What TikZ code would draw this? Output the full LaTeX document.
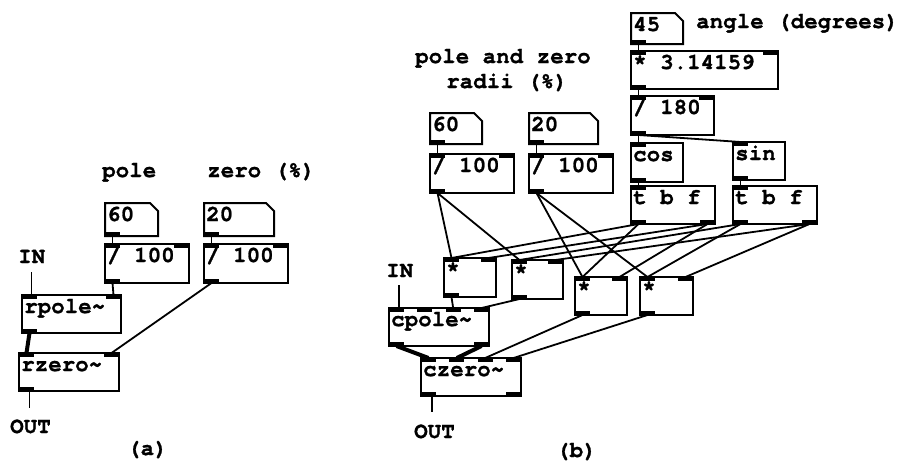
\documentclass[tikz,border=0pt]{standalone}
\usepackage{fontspec}
\setmainfont{TeX Gyre Cursor}[BoldFeatures={FakeBold=1.2}]
\tikzset{
  pdfont/.style={font=\fontsize{22.5}{25}\selectfont\bfseries},
  obj/.style={draw, line width=2pt, rectangle, inner sep=0pt, outer sep=0pt, anchor=north west},
  numbox/.style={rectangle, inner sep=0pt, outer sep=0pt, anchor=north west},
  objtext/.style={pdfont, anchor=base west, inner sep=0pt},
  lbl/.style={pdfont, anchor=base west, inner sep=0pt},
  ctl/.style={line width=1.8pt},
  sig/.style={line width=4pt},
}
\newcommand\pdinlets[5]{%
  \ifnum#5=1
    \fill (#2,#3) rectangle ++(15,4);
    \coordinate (#1-i1) at ({#2+7.5},#3);
  \else
    \foreach \k in {1,...,#5}{%
      \pgfmathsetmacro\px{#2+(#4-#2-15)*(\k-1)/(#5-1)}%
      \fill (\px,#3) rectangle ++(15,4);
      \coordinate (#1-i\k) at ({\px+7.5},#3);
    }%
  \fi
}
\newcommand\pdoutlets[5]{%
  \ifnum#5=1
    \fill (#2,#3) rectangle ++(15,-4);
    \coordinate (#1-o1) at ({#2+7.5},#3);
  \else
    \foreach \k in {1,...,#5}{%
      \pgfmathsetmacro\px{#2+(#4-#2-15)*(\k-1)/(#5-1)}%
      \fill (\px,#3) rectangle ++(15,-4);
      \coordinate (#1-o\k) at ({\px+7.5},#3);
    }%
  \fi
}
% name x1 y1 x2 y2 text nin nout
\newcommand\pdbox[8]{%
  \node[obj, minimum width={#4-#2}, minimum height={#5-#3}] (#1) at (#2,#3) {};
  \node[objtext] (#1-t) at ({#2+2},{#3+18}) {#6};
  \pdinlets{#1}{#2}{#3}{#4}{#7}
  \pdoutlets{#1}{#2}{#5}{#4}{#8}
}
\newcommand\pdnum[6]{%
  \node[numbox, minimum width={#4-#2}, minimum height={#5-#3}] (#1) at (#2,#3) {};
  \draw[line width=2pt, line join=miter] (#1.north west) -- ([xshift=-8pt]#1.north east)
     -- ([yshift=-8pt]#1.north east) -- (#1.south east) -- (#1.south west) -- cycle;
  \node[objtext] (#1-t) at ({#2+2},{#3+18}) {#6};
  \pdoutlets{#1}{#2}{#5}{#4}{1}
}
\begin{document}
\begin{tikzpicture}[x=1pt,y=-1pt]
\useasboundingbox (0,0) rectangle (899,466);
% ---------------- (a)
\node[lbl] (poleA) at (102,177) {pole};
\node[lbl] (zeroA) at (207,177) {zero (\%)};
\pdnum{nA60}{105}{203}{158}{236}{60}
\pdnum{nA20}{204}{203}{274}{236}{20}
\pdbox{dA1}{105}{244}{189}{283}{/ 100}{2}{1}
\pdbox{dA2}{204}{244}{288}{283}{/ 100}{2}{1}
\node[lbl] (inA) at (18,263) {IN};
\pdbox{rpole}{22}{295}{121}{333}{rpole\textasciitilde}{2}{1}
\pdbox{rzero}{19}{353}{119}{391}{rzero\textasciitilde}{2}{1}
\node[lbl] (outA) at (10,433) {OUT};
\node[lbl] (capA) at (127,455) {(a)};
\coordinate (inAend) at (31.5,272);
\coordinate (outAend) at (29.5,408);
\draw[ctl] (nA60-o1) -- (dA1-i1);
\draw[ctl] (nA20-o1) -- (dA2-i1);
\draw[ctl] (dA1-o1) -- (rpole-i2);
\draw[ctl] (dA2-o1) -- (rzero-i2);
\draw[ctl] (inAend) -- (inAend |- rpole-i1);
\draw[sig] (rpole-o1) -- (rzero-i1);
\draw[ctl] (outAend |- rzero-o1) -- (outAend);
% ---------------- (b)
\node[lbl] (pzB) at (415,63) {pole and zero};
\node[lbl] (radB) at (446,88) {radii (\%)};
\node[lbl] (angB) at (696,28) {angle (degrees)};
\pdnum{n45}{631}{13}{683}{44}{45}
\pdbox{mul}{631}{51}{778}{89}{* 3.14159}{2}{1}
\pdbox{div}{631}{96}{714}{135}{/ 180}{2}{1}
\pdbox{cos}{631}{143}{683}{182}{cos}{1}{1}
\pdbox{sin}{733}{142}{785}{180}{sin}{1}{1}
\pdbox{tbfA}{631}{186}{715}{224}{t b f}{1}{2}
\pdbox{tbfB}{733}{186}{817}{224}{t b f}{1}{2}
\pdnum{n60}{430}{113}{482}{144}{60}
\pdnum{n20}{529}{113}{598}{144}{20}
\pdbox{dB1}{430}{154}{514}{193}{/ 100}{2}{1}
\pdbox{dB2}{529}{154}{613}{193}{/ 100}{2}{1}
\pdbox{mA}{444}{258}{496}{297}{*}{2}{1}
\pdbox{mB}{512}{260}{563}{299}{*}{2}{1}
\pdbox{mC}{575}{277}{627}{315}{*}{2}{1}
\pdbox{mD}{640}{277}{693}{315}{*}{2}{1}
\node[lbl] (inB) at (386,277) {IN};
\pdbox{cpole}{389}{308}{489}{346}{cpole\textasciitilde}{4}{2}
\pdbox{czero}{421}{358}{521}{396}{czero\textasciitilde}{4}{2}
\node[lbl] (outB) at (414,438) {OUT};
\node[lbl] (capB) at (556,457) {(b)};
\coordinate (inBend) at (399,285);
\coordinate (outBend) at (432,412);
\draw[ctl] (n45-o1) -- (mul-i1);
\draw[ctl] (mul-o1) -- (div-i1);
\draw[ctl] (div-o1) -- (cos-i1);
\draw[ctl] (div-o1) -- (sin-i1);
\draw[ctl] (cos-o1) -- (tbfA-i1);
\draw[ctl] (sin-o1) -- (tbfB-i1);
\draw[ctl] (n60-o1) -- (dB1-i1);
\draw[ctl] (n20-o1) -- (dB2-i1);
\draw[ctl] (dB1-o1) -- (mA-i1);
\draw[ctl] (dB1-o1) -- (mB-i1);
\draw[ctl] (dB2-o1) -- (mC-i1);
\draw[ctl] (dB2-o1) -- (mD-i1);
\draw[ctl] (tbfA-o1) -- (mA-i1);
\draw[ctl] (tbfA-o1) -- (mC-i1);
\draw[ctl] (tbfA-o2) -- (mA-i2);
\draw[ctl] (tbfA-o2) -- (mC-i2);
\draw[ctl] (tbfB-o1) -- (mB-i1);
\draw[ctl] (tbfB-o1) -- (mD-i1);
\draw[ctl] (tbfB-o2) -- (mB-i2);
\draw[ctl] (tbfB-o2) -- (mD-i2);
\draw[ctl] (mA-o1) -- (cpole-i3);
\draw[ctl] (mB-o1) -- (cpole-i4);
\draw[ctl] (mC-o1) -- (czero-i3);
\draw[ctl] (mD-o1) -- (czero-i4);
\draw[ctl] (inBend) -- (inBend |- cpole-i1);
\draw[sig] (cpole-o1) -- (czero-i1);
\draw[sig] (cpole-o2) -- (czero-i2);
\draw[ctl] (outBend |- czero-o1) -- (outBend);
\end{tikzpicture}
\end{document}
